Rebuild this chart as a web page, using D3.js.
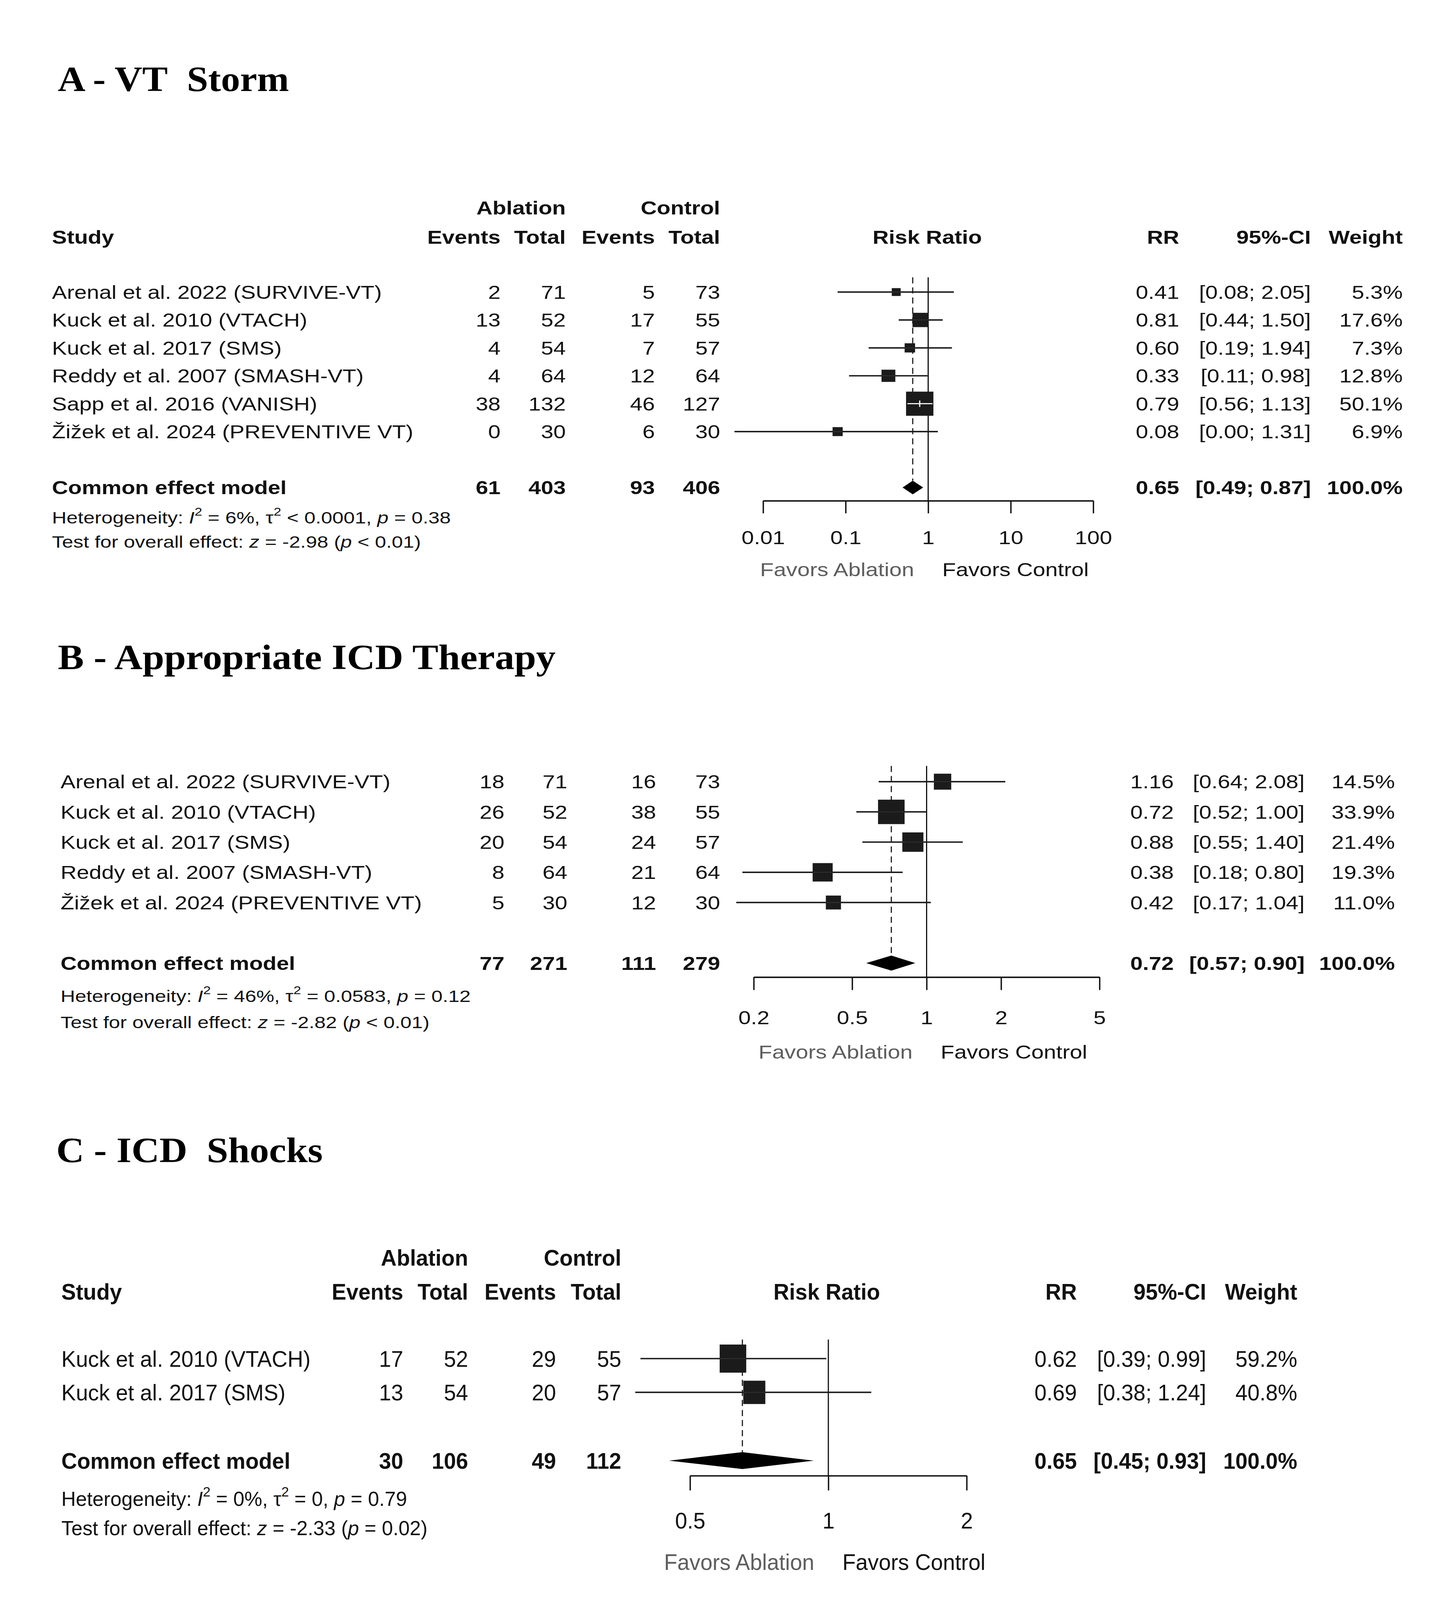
<!DOCTYPE html>
<html><head><meta charset="utf-8">
<script src="https://cdn.jsdelivr.net/npm/d3@7"></script>
<style>html,body{margin:0;padding:0;background:#fff;overflow:hidden;width:100%;height:100%;} svg{display:block;position:absolute;left:0;top:0;}</style>
</head><body>
<script>
// ================= DATA =================
// Panel A - VT Storm
const studiesA = ["Arenal et al. 2022 (SURVIVE-VT)", "Kuck et al. 2010 (VTACH)", "Kuck et al. 2017 (SMS)", "Reddy et al. 2007 (SMASH-VT)", "Sapp et al. 2016 (VANISH)", "Žižek et al. 2024 (PREVENTIVE VT)"];
const evAblA = [2, 13, 4, 4, 38, 0];
const totAblA = [71, 52, 54, 64, 132, 30];
const evCtlA = [5, 17, 7, 12, 46, 6];
const totCtlA = [73, 55, 57, 64, 127, 30];
const rrA = [0.41, 0.81, 0.60, 0.33, 0.79, 0.08];
const loA = [0.08, 0.44, 0.19, 0.11, 0.56, 0.0045];
const hiA = [2.05, 1.50, 1.94, 0.98, 1.13, 1.31];
const wA = [5.3, 17.6, 7.3, 12.8, 50.1, 6.9];
const sumA = [61, 403, 93, 406, 0.65, 0.49, 0.87, 100.0];
const ticksA = [0.01, 0.1, 1, 10, 100];
const tickLabelsA = ["0.01", "0.1", "1", "10", "100"];
const titleA = "A - VT\u00a0 Storm";
const hetA = [["Heterogeneity: ", ""], ["I", "i"], ["2", "s"], [" = 6%, ", ""], ["\u03c4", ""], ["2", "s"], [" < 0.0001, ", ""], ["p", "i"], [" = 0.38", ""]];
const testA = [["Test for overall effect: ", ""], ["z", "i"], [" = -2.98 (", ""], ["p", "i"], [" < 0.01)", ""]];

// Panel B - Appropriate ICD Therapy
const studiesB = ["Arenal et al. 2022 (SURVIVE-VT)", "Kuck et al. 2010 (VTACH)", "Kuck et al. 2017 (SMS)", "Reddy et al. 2007 (SMASH-VT)", "Žižek et al. 2024 (PREVENTIVE VT)"];
const evAblB = [18, 26, 20, 8, 5];
const totAblB = [71, 52, 54, 64, 30];
const evCtlB = [16, 38, 24, 21, 12];
const totCtlB = [73, 55, 57, 64, 30];
const rrB = [1.16, 0.72, 0.88, 0.38, 0.42];
const loB = [0.64, 0.52, 0.55, 0.18, 0.17];
const hiB = [2.08, 1.00, 1.40, 0.80, 1.04];
const wB = [14.5, 33.9, 21.4, 19.3, 11.0];
const sumB = [77, 271, 111, 279, 0.72, 0.57, 0.90, 100.0];
const ticksB = [0.2, 0.5, 1, 2, 5];
const tickLabelsB = ["0.2", "0.5", "1", "2", "5"];
const titleB = "B - Appropriate ICD Therapy";
const hetB = [["Heterogeneity: ", ""], ["I", "i"], ["2", "s"], [" = 46%, ", ""], ["\u03c4", ""], ["2", "s"], [" = 0.0583, ", ""], ["p", "i"], [" = 0.12", ""]];
const testB = [["Test for overall effect: ", ""], ["z", "i"], [" = -2.82 (", ""], ["p", "i"], [" < 0.01)", ""]];

// Panel C - ICD Shocks
const studiesC = ["Kuck et al. 2010 (VTACH)", "Kuck et al. 2017 (SMS)"];
const evAblC = [17, 13];
const totAblC = [52, 54];
const evCtlC = [29, 20];
const totCtlC = [55, 57];
const rrC = [0.62, 0.69];
const loC = [0.39, 0.38];
const hiC = [0.99, 1.24];
const wC = [59.2, 40.8];
const sumC = [30, 106, 49, 112, 0.65, 0.45, 0.93, 100.0];
const ticksC = [0.5, 1, 2];
const tickLabelsC = ["0.5", "1", "2"];
const titleC = "C - ICD\u00a0 Shocks";
const hetC = [["Heterogeneity: ", ""], ["I", "i"], ["2", "s"], [" = 0%, ", ""], ["\u03c4", ""], ["2", "s"], [" = 0, ", ""], ["p", "i"], [" = 0.79", ""]];
const testC = [["Test for overall effect: ", ""], ["z", "i"], [" = -2.33 (", ""], ["p", "i"], [" = 0.02)", ""]];

const headerCols = ["Events", "Total", "Events", "Total"];
const favorsLabels = ["Favors Ablation", "Favors Control"];
const summaryLabel = "Common effect model";

// ================= LAYOUT =================
const W = 3688, H = 4454;
const SANS = "'Liberation Sans', Arial, Helvetica, sans-serif";
const SERIF = "'Liberation Serif', 'Times New Roman', serif";
const INK = "#111";
const BOX = "#1b1b1b";

const layoutA = {titleX: 148, titleY: 253, titleFs: 98, header: true, hY1: 578, hY2: 660, studyX: 133,
  cols: [1281, 1448, 1676, 1843], rowY0: 813, rowStep: 77.7, sumY: 1357, x0: 1953, x1: 2798,
  lineTop: 772, axisY: 1394, tickLen: 35, tickLabelY: 1496, favY: 1585, hetY: 1440, testY: 1508,
  rrX: 3018, ciX: 3355, wX: 3590, rrHeadX: 2373, fs: 52, sx: 1.1, hetFs: 47, boxMax: 70, boxAspect: 0.96, dia: 19};
const layoutB = {titleX: 148, titleY: 1863, titleFs: 100, header: false, studyX: 155,
  cols: [1291, 1452, 1679, 1843], rowY0: 2176, rowStep: 84.1, sumY: 2681, x0: 1929, x1: 2814,
  lineTop: 2132, axisY: 2720, tickLen: 36, tickLabelY: 2832, favY: 2928, hetY: 2772, testY: 2845,
  rrX: 3004, ciX: 3339, wX: 3570, rrHeadX: 2371, fs: 52, sx: 1.1, hetFs: 47, boxMax: 68, boxAspect: 1.0, dia: 21};
const layoutC = {titleX: 144, titleY: 3235, titleFs: 99, header: true, hY1: 3501, hY2: 3595, studyX: 157,
  cols: [1032, 1198, 1423, 1590], rowY0: 3782, rowStep: 94, sumY: 4066, x0: 1766, x1: 2474,
  lineTop: 3729, axisY: 4108, tickLen: 41, tickLabelY: 4233, favY: 4348, hetY: 4171, testY: 4253,
  rrX: 2756, ciX: 3087, wX: 3320, rrHeadX: 2116, fs: 62, sx: 0.9, hetFs: 57, boxMax: 68, boxAspect: 1.15, dia: 23.5};

const svg = d3.select("body").append("svg")
  .attr("width", "100vw").attr("height", "100vh")
  .attr("viewBox", `0 0 ${W} ${H}`).attr("preserveAspectRatio", "none");
svg.append("rect").attr("width", W).attr("height", H).attr("fill", "#fff");

function txt(g, x, yc, s, o) {
  const fs = o.fs, sx = o.sx || 1;
  const t = g.append("text")
    .attr("transform", `translate(${x},${yc + 0.36 * fs}) scale(${sx},1)`)
    .attr("font-size", fs)
    .attr("font-family", o.family || SANS)
    .attr("font-weight", o.bold ? "bold" : "normal")
    .attr("text-anchor", o.anchor || "start")
    .attr("fill", o.fill || INK);
  if (typeof s === "string") t.text(s);
  else {
    let up = false;
    s.forEach(([str, kind]) => {
      const ts = t.append("tspan").text(str);
      if (kind === "i") ts.attr("font-style", "italic");
      if (kind === "s") { ts.attr("font-size", fs * 0.68).attr("dy", -0.45 * fs); up = true; }
      else if (up) { ts.attr("dy", 0.45 * fs); up = false; }
    });
  }
  return t;
}

const f2 = d3.format(".2f"), f1 = d3.format(".1f");

function drawPanel(L, D) {
  const g = svg.append("g");
  const o = {fs: L.fs, sx: L.sx};
  txt(g, L.titleX, L.titleY - 0.36 * L.titleFs, D.title, {fs: L.titleFs, family: SERIF, bold: true, fill: "#000"});

  if (L.header) {
    txt(g, L.cols[1], L.hY1, "Ablation", {...o, bold: true, anchor: "end"});
    txt(g, L.cols[3], L.hY1, "Control", {...o, bold: true, anchor: "end"});
    txt(g, L.studyX, L.hY2, "Study", {...o, bold: true});
    headerCols.forEach((h, i) => txt(g, L.cols[i], L.hY2, h, {...o, bold: true, anchor: "end"}));
    txt(g, L.rrHeadX, L.hY2, "Risk Ratio", {...o, bold: true, anchor: "middle"});
    txt(g, L.rrX, L.hY2, "RR", {...o, bold: true, anchor: "end"});
    txt(g, L.ciX, L.hY2, "95%-CI", {...o, bold: true, anchor: "end"});
    txt(g, L.wX, L.hY2, "Weight", {...o, bold: true, anchor: "end"});
  }

  const y = d3.scaleLinear().domain([0, 1]).range([L.rowY0, L.rowY0 + L.rowStep]);
  const x = d3.scaleLog().domain([D.ticks[0], D.ticks[D.ticks.length - 1]]).range([L.x0, L.x1]);
  const wMax = d3.max(D.w);
  const side = d3.scaleSqrt().domain([0, wMax]).range([0, L.boxMax]);

  D.studies.forEach((s, i) => {
    const yy = y(i);
    txt(g, L.studyX, yy, s, o);
    [D.e1[i], D.t1[i], D.e2[i], D.t2[i]].forEach((v, k) => txt(g, L.cols[k], yy, String(v), {...o, anchor: "end"}));
    txt(g, L.rrX, yy, f2(D.rr[i]), {...o, anchor: "end"});
    txt(g, L.ciX, yy, `[${f2(D.lo[i])}; ${f2(D.hi[i])}]`, {...o, anchor: "end"});
    txt(g, L.wX, yy, `${f1(D.w[i])}%`, {...o, anchor: "end"});
  });
  const S = D.sum;
  txt(g, L.studyX, L.sumY, summaryLabel, {...o, bold: true});
  [S[0], S[1], S[2], S[3]].forEach((v, k) => txt(g, L.cols[k], L.sumY, String(v), {...o, bold: true, anchor: "end"}));
  txt(g, L.rrX, L.sumY, f2(S[4]), {...o, bold: true, anchor: "end"});
  txt(g, L.ciX, L.sumY, `[${f2(S[5])}; ${f2(S[6])}]`, {...o, bold: true, anchor: "end"});
  txt(g, L.wX, L.sumY, `${f1(S[7])}%`, {...o, bold: true, anchor: "end"});

  txt(g, L.studyX, L.hetY, D.het, {fs: L.hetFs, sx: L.sx});
  txt(g, L.studyX, L.testY, D.test, {fs: L.hetFs, sx: L.sx});

  g.append("line").attr("x1", x(1)).attr("x2", x(1)).attr("y1", L.lineTop).attr("y2", L.axisY)
    .attr("stroke", INK).attr("stroke-width", 3);
  g.append("line").attr("x1", x(S[4])).attr("x2", x(S[4])).attr("y1", L.lineTop).attr("y2", L.sumY - L.dia)
    .attr("stroke", INK).attr("stroke-width", 2.8).attr("stroke-dasharray", "17,11");

  g.selectAll(".ci").data(D.rr).enter().append("line")
    .attr("x1", (d, i) => x(D.lo[i])).attr("x2", (d, i) => x(D.hi[i]))
    .attr("y1", (d, i) => y(i)).attr("y2", (d, i) => y(i))
    .attr("stroke", BOX).attr("stroke-width", 4);
  D.rr.forEach((d, i) => {
    const bw = side(D.w[i]), bh = bw * L.boxAspect;
    const cx = x(d), cy = y(i);
    g.append("rect").attr("x", cx - bw / 2).attr("y", cy - bh / 2).attr("width", bw).attr("height", bh)
      .attr("fill", BOX);
    const inside = x(D.lo[i]) >= cx - bw / 2 && x(D.hi[i]) <= cx + bw / 2;
    if (inside) {
      g.append("line").attr("x1", x(D.lo[i])).attr("x2", x(D.hi[i])).attr("y1", cy).attr("y2", cy)
        .attr("stroke", "#fff").attr("stroke-width", 3);
      g.append("line").attr("x1", cx).attr("x2", cx).attr("y1", cy - 9).attr("y2", cy + 9)
        .attr("stroke", "#fff").attr("stroke-width", 3);
    } else {
      g.append("line").attr("x1", cx - bw / 2).attr("x2", cx + bw / 2).attr("y1", cy).attr("y2", cy)
        .attr("stroke", "#333").attr("stroke-width", 2);
    }
  });
  g.append("polygon")
    .attr("points", [[x(S[5]), L.sumY], [x(S[4]), L.sumY - L.dia], [x(S[6]), L.sumY], [x(S[4]), L.sumY + L.dia]].map(p => p.join(",")).join(" "))
    .attr("fill", "#000");

  const ax = d3.axisBottom(x).tickValues(D.ticks).tickFormat((d, i) => D.tickLabels[i])
    .tickSize(L.tickLen).tickSizeOuter(0).tickPadding(0);
  const ag = g.append("g").attr("transform", `translate(0,${L.axisY})`).call(ax)
    .attr("font-size", null).attr("font-family", null).attr("color", INK);
  ag.select(".domain").attr("stroke-width", 4);
  ag.selectAll(".tick line").attr("stroke-width", 3.5);
  ag.selectAll(".tick text")
    .attr("y", L.tickLabelY - L.axisY + 0.36 * L.fs).attr("dy", null)
    .attr("transform", `scale(${L.sx},1)`)
    .attr("font-size", L.fs).attr("font-family", SANS).attr("fill", INK);

  txt(g, x(1) - 36, L.favY, favorsLabels[0], {...o, anchor: "end", fill: "#5e5e5e"});
  txt(g, x(1) + 36, L.favY, favorsLabels[1], {...o, anchor: "start", fill: INK});
}

drawPanel(layoutA, {title: titleA, studies: studiesA, e1: evAblA, t1: totAblA, e2: evCtlA, t2: totCtlA,
  rr: rrA, lo: loA, hi: hiA, w: wA, sum: sumA, ticks: ticksA, tickLabels: tickLabelsA, het: hetA, test: testA});
drawPanel(layoutB, {title: titleB, studies: studiesB, e1: evAblB, t1: totAblB, e2: evCtlB, t2: totCtlB,
  rr: rrB, lo: loB, hi: hiB, w: wB, sum: sumB, ticks: ticksB, tickLabels: tickLabelsB, het: hetB, test: testB});
drawPanel(layoutC, {title: titleC, studies: studiesC, e1: evAblC, t1: totAblC, e2: evCtlC, t2: totCtlC,
  rr: rrC, lo: loC, hi: hiC, w: wC, sum: sumC, ticks: ticksC, tickLabels: tickLabelsC, het: hetC, test: testC});
</script>
</body></html>
